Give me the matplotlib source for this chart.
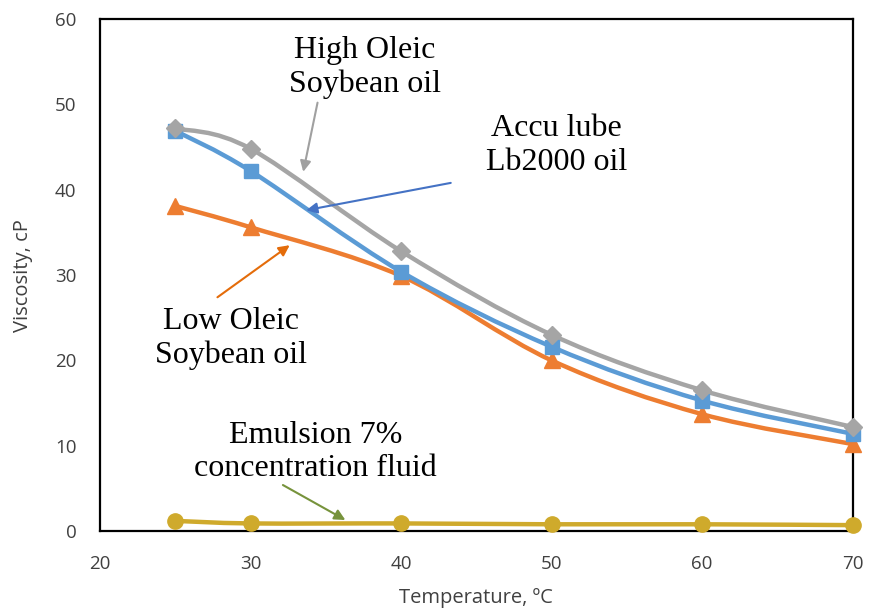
import numpy as np
import matplotlib
matplotlib.use("Agg")
import matplotlib.pyplot as plt
from matplotlib.path import Path
from matplotlib.patches import PathPatch

# === DATA ===
temperature = [25, 30, 40, 50, 60, 70]
high_oleic = [47.2, 44.8, 32.8, 23.0, 16.5, 12.2]
accu_lube = [46.9, 42.2, 30.4, 21.6, 15.3, 11.4]
low_oleic = [38.1, 35.6, 29.9, 20.0, 13.7, 10.2]
emulsion = [1.2, 0.9, 0.9, 0.8, 0.8, 0.7]

x_ticks = [20, 30, 40, 50, 60, 70]
y_ticks = [0, 10, 20, 30, 40, 50, 60]

# === STYLE ===
C_GRAY = "#A5A5A5"
C_BLUE = "#5B9BD5"
C_ORANGE = "#ED7D31"
C_GOLD = "#CFAA2C"
SERIF = "Liberation Serif"
SANS = "Open Sans"
TXT = "#404040"

fig = plt.figure(figsize=(8.7, 6.14), dpi=100)
ax = fig.add_axes([0.115, 0.135, 0.865, 0.834])


def smooth_path(xs, ys):
    # Catmull-Rom style cubic Bezier through the points (smoothed line)
    pts = np.column_stack([xs, ys]).astype(float)
    verts = [pts[0]]
    codes = [Path.MOVETO]
    t = 1 / 6
    for i in range(len(pts) - 1):
        p0 = pts[i - 1] if i > 0 else pts[i]
        p1, p2 = pts[i], pts[i + 1]
        p3 = pts[i + 2] if i + 2 < len(pts) else pts[i + 1]
        c1 = p1 + (p2 - p0) * t
        c2 = p2 - (p3 - p1) * t
        verts += [c1, c2, p2]
        codes += [Path.CURVE4] * 3
    return Path(verts, codes)


series = [
    (emulsion, C_GOLD, "o", 11),
    (low_oleic, C_ORANGE, "^", 11),
    (accu_lube, C_BLUE, "s", 10),
    (high_oleic, C_GRAY, "D", 9),
]
for vals, col, mk, ms in series:
    ax.add_patch(PathPatch(smooth_path(temperature, vals), fill=False,
                           edgecolor=col, lw=3.2, capstyle="round", zorder=2))
    ax.plot(temperature, vals, linestyle="none", marker=mk, markersize=ms,
            color=col, zorder=3, clip_on=False)

ax.set_xlim(20, 70)
ax.set_ylim(0, 60)
ax.set_xticks(x_ticks)
ax.set_yticks(y_ticks)
ax.tick_params(length=0, labelsize=13.5, colors=TXT, pad=17)
for lab in ax.get_xticklabels() + ax.get_yticklabels():
    lab.set_family(SANS)
for s in ax.spines.values():
    s.set_color("black")
    s.set_linewidth(1.6)

ax.set_xlabel("Temperature, \u00baC", fontsize=14.5, color=TXT, family=SANS,
              va="center", ha="center")
ax.set_ylabel("Viscosity, cP", fontsize=14.5, color=TXT, family=SANS,
              va="center", ha="center")
ax.xaxis.set_label_coords(0.5, -0.13)
ax.yaxis.set_label_coords(-0.103, 0.5)

# === ANNOTATIONS ===
labels = [
    ("High Oleic\nSoybean oil", (37.6, 54.3), (34.45, 50.2), (33.5, 42.1), "#A0A0A0"),
    ("Accu lube\nLb2000 oil", (50.35, 45.2), (43.3, 40.8), (33.7, 37.6), "#4472C4"),
    ("Low Oleic\nSoybean oil", (28.7, 22.6), (27.8, 27.4), (32.6, 33.5), "#E46C0A"),
    ("Emulsion 7%\nconcentration fluid", (34.3, 9.3), (32.15, 5.4), (36.3, 1.3), "#77933C"),
]
for txt, pos, tail, tip, col in labels:
    ax.text(pos[0], pos[1], txt, ha="center", va="center", fontsize=23,
            family=SERIF, linespacing=1.2, zorder=5)
    ax.annotate("", xy=tip, xytext=tail, zorder=4,
                arrowprops=dict(arrowstyle="-|>", color=col, lw=1.5,
                                mutation_scale=16, shrinkA=0, shrinkB=0))

fig.savefig("out.png", dpi=100, facecolor="white")
